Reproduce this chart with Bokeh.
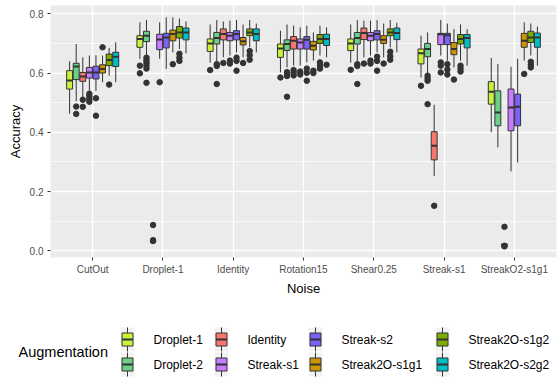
from bokeh.plotting import figure
from bokeh.layouts import column, row
from bokeh.models import Range1d, FixedTicker, NumeralTickFormatter
from bokeh.core.properties import value
from bokeh.embed import file_html
from bokeh.resources import INLINE

# ---------------- data ----------------
noise = ["CutOut", "Droplet-1", "Identity", "Rotation15", "Shear0.25", "Streak-s1", "StreakO2-s1g1"]
augmentation = ["Droplet-1", "Droplet-2", "Identity", "Streak-s1", "Streak-s2",
                "Streak2O-s1g1", "Streak2O-s1g2", "Streak2O-s2g2"]
aug_colors = ["#C9F23C", "#6CCF86", "#F8766D", "#C77CFF", "#7B61F5",
              "#CD9600", "#7CAE00", "#00BFC4"]
y_ticks = [0.0, 0.2, 0.4, 0.6, 0.8]
y_minor = [0.1, 0.3, 0.5, 0.7]

# box stats per augmentation: (whisker low, q1, median, q3, whisker high)
cutout = [(0.463, 0.546, 0.575, 0.608, 0.640), (0.505, 0.578, 0.622, 0.633, 0.698),
          (0.518, 0.572, 0.588, 0.602, 0.653), (0.540, 0.583, 0.602, 0.619, 0.659),
          (0.540, 0.580, 0.602, 0.623, 0.660), (0.569, 0.600, 0.614, 0.628, 0.659),
          (0.591, 0.625, 0.644, 0.664, 0.685), (0.569, 0.622, 0.655, 0.670, 0.704)]
droplet1 = [(0.648, 0.687, 0.715, 0.726, 0.771), (0.659, 0.706, 0.726, 0.741, 0.779),
            (0.030, 0.030, 0.030, 0.030, 0.030), (0.648, 0.679, 0.713, 0.731, 0.771),
            (0.614, 0.685, 0.720, 0.734, 0.788), (0.670, 0.709, 0.732, 0.745, 0.788),
            (0.681, 0.718, 0.737, 0.757, 0.784), (0.666, 0.712, 0.737, 0.752, 0.774)]
identity = [(0.635, 0.673, 0.700, 0.715, 0.764), (0.640, 0.698, 0.718, 0.737, 0.779),
            (0.653, 0.712, 0.732, 0.749, 0.774), (0.659, 0.709, 0.726, 0.737, 0.777),
            (0.670, 0.712, 0.732, 0.743, 0.779), (0.653, 0.695, 0.707, 0.720, 0.764),
            (0.687, 0.726, 0.737, 0.749, 0.779), (0.670, 0.709, 0.732, 0.749, 0.767)]
rotation15 = [(0.602, 0.653, 0.683, 0.698, 0.743), (0.619, 0.676, 0.698, 0.712, 0.764),
              (0.625, 0.681, 0.709, 0.723, 0.760), (0.625, 0.681, 0.703, 0.715, 0.754),
              (0.636, 0.681, 0.712, 0.723, 0.760), (0.642, 0.678, 0.692, 0.707, 0.737),
              (0.659, 0.700, 0.715, 0.730, 0.760), (0.653, 0.693, 0.715, 0.731, 0.754)]
shear025 = [(0.635, 0.676, 0.700, 0.715, 0.764), (0.640, 0.698, 0.718, 0.737, 0.779),
            (0.653, 0.713, 0.735, 0.752, 0.777), (0.659, 0.709, 0.726, 0.737, 0.777),
            (0.670, 0.712, 0.732, 0.743, 0.779), (0.653, 0.700, 0.712, 0.726, 0.767),
            (0.687, 0.726, 0.737, 0.749, 0.779), (0.670, 0.713, 0.735, 0.752, 0.770)]
streak_s1 = [(0.585, 0.631, 0.667, 0.681, 0.726), (0.597, 0.655, 0.681, 0.700, 0.737),
             (0.253, 0.307, 0.355, 0.402, 0.493), (0.659, 0.696, 0.731, 0.734, 0.779),
             (0.642, 0.696, 0.728, 0.734, 0.767), (0.619, 0.662, 0.681, 0.703, 0.748),
             (0.642, 0.698, 0.715, 0.730, 0.764), (0.625, 0.685, 0.718, 0.730, 0.748)]
streako2 = [(0.400, 0.495, 0.537, 0.571, 0.651), (0.349, 0.422, 0.467, 0.540, 0.630),
            (0.021, 0.021, 0.021, 0.021, 0.021), (0.268, 0.405, 0.484, 0.546, 0.621),
            (0.298, 0.422, 0.486, 0.529, 0.648), (0.642, 0.687, 0.709, 0.734, 0.771),
            (0.659, 0.703, 0.720, 0.741, 0.767), (0.625, 0.687, 0.720, 0.735, 0.757)]
box_stats = [cutout, droplet1, identity, rotation15, shear025, streak_s1, streako2]

# outliers per noise, per augmentation
out_cutout = [[], [0.487, 0.462], [0.510, 0.486], [0.530, 0.522, 0.512, 0.503],
              [0.515, 0.456], [0.687], [0.561], []]
out_droplet1 = [[0.625, 0.599], [0.652, 0.643, 0.634, 0.625, 0.615, 0.567],
                [0.087, 0.036, 0.033], [0.569], [], [0.630], [0.665, 0.652, 0.641], []]
out_identity = [[0.610], [0.630, 0.624, 0.563], [0.634], [0.642, 0.632],
                [0.652, 0.641, 0.608], [0.634], [0.674, 0.660, 0.645], []]
out_rotation15 = [[0.585], [0.603, 0.596, 0.590, 0.520], [0.610, 0.601, 0.592],
                  [0.605, 0.595], [0.615, 0.601, 0.574], [0.608, 0.600],
                  [0.636, 0.625, 0.615], [0.628]]
out_shear025 = [[0.611], [0.630, 0.624, 0.563], [0.632], [0.642, 0.632],
                [0.655, 0.641, 0.608], [0.632], [0.672, 0.657, 0.645], []]
out_streak_s1 = [[0.557], [0.591, 0.582, 0.574, 0.495], [0.152], [0.636, 0.625, 0.602],
                 [0.630, 0.612, 0.595], [0.578], [0.625, 0.615, 0.605], []]
out_streako2 = [[], [], [0.081, 0.017, 0.015], [], [], [0.597], [0.638, 0.628, 0.619], []]
outliers = [out_cutout, out_droplet1, out_identity, out_rotation15,
            out_shear025, out_streak_s1, out_streako2]

# ---------------- build columns ----------------
DODGE = 0.75 / 8
BOXW = DODGE * 0.9
FONT = "Liberation Sans"
EDGE = "#333333"

bx, lo, q1, md, q3, hi, fc = [], [], [], [], [], [], []
ox, oy = [], []
for ni, stats in enumerate(box_stats):
    for ai, st in enumerate(stats):
        x = ni + 1 + (ai - 3.5) * DODGE
        bx.append(x); lo.append(st[0]); q1.append(st[1]); md.append(st[2])
        q3.append(st[3]); hi.append(st[4]); fc.append(aug_colors[ai])
        for v in outliers[ni][ai]:
            ox.append(x); oy.append(v)

p = figure(frame_width=506, frame_height=252, output_backend="svg", toolbar_location=None,
           x_range=Range1d(0.4, 7.6), y_range=Range1d(-0.0226, 0.828),
           min_border_left=50, min_border_right=4, min_border_top=5, min_border_bottom=43)
p.background_fill_color = "#EBEBEB"
p.border_fill_color = "white"
p.outline_line_color = None

# whiskers
p.segment(x0=bx, x1=bx, y0=q3, y1=hi, line_color=EDGE, line_width=1.0)
p.segment(x0=bx, x1=bx, y0=lo, y1=q1, line_color=EDGE, line_width=1.0)
# boxes
p.vbar(x=bx, width=BOXW, bottom=q1, top=q3, fill_color=fc, line_color=EDGE, line_width=1.0)
# medians
p.segment(x0=[x - BOXW / 2 for x in bx], x1=[x + BOXW / 2 for x in bx], y0=md, y1=md,
          line_color=EDGE, line_width=2.0)
# outliers
p.scatter(x=ox, y=oy, size=5.5, fill_color=EDGE, line_color=EDGE)

# axes
p.xaxis.ticker = FixedTicker(ticks=list(range(1, len(noise) + 1)))
p.xaxis.major_label_overrides = {i + 1: n for i, n in enumerate(noise)}
p.yaxis.ticker = FixedTicker(ticks=y_ticks, minor_ticks=y_minor)
p.yaxis.formatter = NumeralTickFormatter(format="0.0")
for ax in (p.xaxis, p.yaxis):
    ax.axis_line_color = None
    ax.major_tick_line_color = EDGE
    ax.major_tick_in = 0
    ax.major_tick_out = 3
    ax.minor_tick_line_color = None
    ax.major_label_text_font = FONT
    ax.major_label_text_font_size = "10px"
    ax.major_label_text_color = "#4D4D4D"
    ax.axis_label_text_font = FONT
    ax.axis_label_text_font_size = "13px"
    ax.axis_label_text_font_style = "normal"
    ax.axis_label_text_color = "black"
p.xaxis.axis_label = "Noise"
p.yaxis.axis_label = "Accuracy"
p.xaxis.major_label_standoff = 3
p.yaxis.major_label_standoff = 3
p.xaxis.axis_label_standoff = 3
p.yaxis.axis_label_standoff = 4

p.xgrid.grid_line_color = "white"
p.xgrid.grid_line_width = 1.3
p.ygrid.grid_line_color = "white"
p.ygrid.grid_line_width = 1.3
p.ygrid.minor_grid_line_color = "white"
p.ygrid.minor_grid_line_width = 0.7

# ---------------- legend ----------------
LH = 77
leg = figure(width=560, height=LH, output_backend="svg", toolbar_location=None,
             x_range=Range1d(0, 560), y_range=Range1d(LH, 0),
             x_axis_type=None, y_axis_type=None, min_border=0)
leg.grid.visible = False
leg.outline_line_color = None
leg.background_fill_color = "white"
leg.border_fill_color = "white"

col_key_x = [127, 221, 315, 442]
col_lab_x = [153, 247, 341, 468]
row_y = [39, 64]
kx, ky, kc, labx, laby, labt = [], [], [], [], [], []
for ai, name in enumerate(augmentation):
    c, r = divmod(ai, 2)
    kx.append(col_key_x[c]); ky.append(row_y[r]); kc.append(aug_colors[ai])
    labx.append(col_lab_x[c]); laby.append(row_y[r]); labt.append(name)

leg.rect(x=kx, y=ky, width=15, height=25, fill_color="#F2F2F2", line_color="white", line_width=1)
leg.segment(x0=kx, x1=kx, y0=[y - 12 for y in ky], y1=[y + 12 for y in ky],
            line_color=EDGE, line_width=1.0)
leg.rect(x=kx, y=ky, width=11, height=13, fill_color=kc, line_color=EDGE, line_width=1.0)
leg.segment(x0=[x - 5.5 for x in kx], x1=[x + 5.5 for x in kx], y0=ky, y1=ky,
            line_color=EDGE, line_width=2.0)
leg.text(x=labx, y=laby, text=labt, text_font=value(FONT), text_font_size="12px",
         text_baseline="middle", text_align="left", text_color="black")
leg.text(x=[18], y=[51.5], text=["Augmentation"], text_font=value(FONT),
         text_font_size="14.5px", text_baseline="middle", text_align="left", text_color="black")

layout = column(p, row(leg, spacing=0), spacing=0)
open("out.html", "w").write(file_html(layout, INLINE))
